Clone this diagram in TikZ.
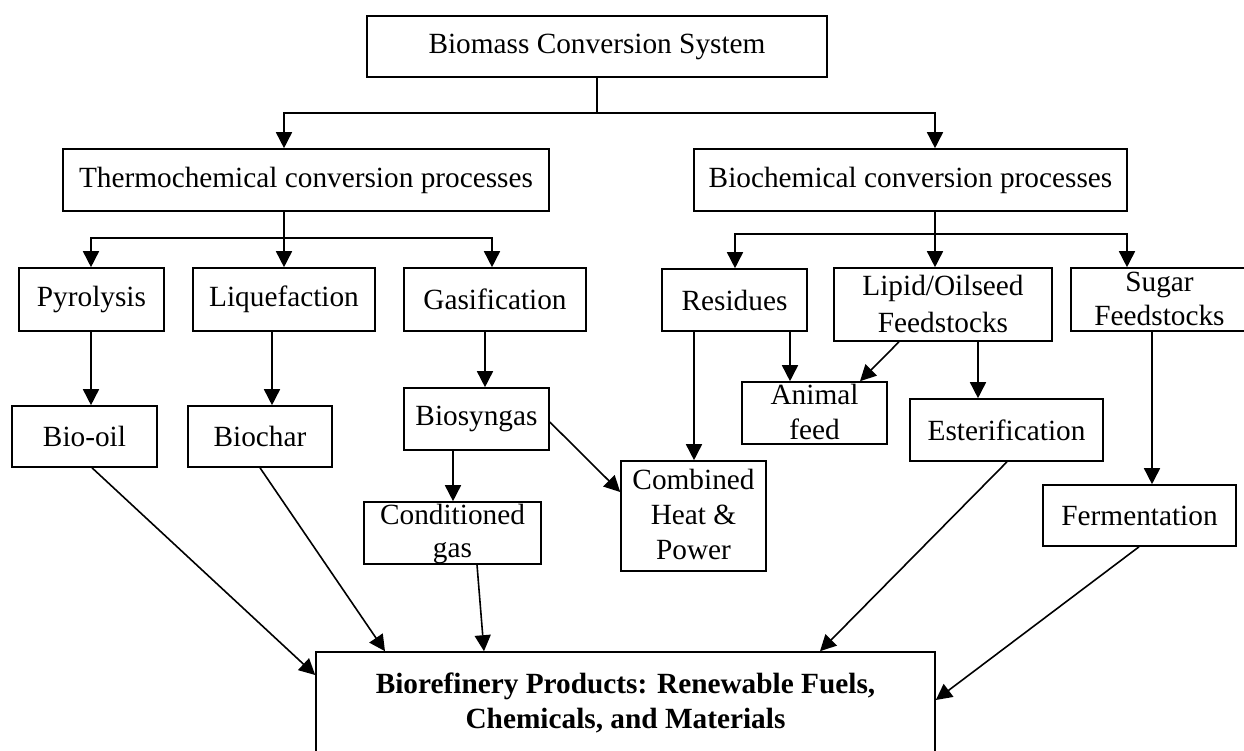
\documentclass[tikz,border=0pt]{standalone}
\usepackage{fontspec}
\setmainfont{Liberation Serif}
\usetikzlibrary{arrows.meta}
\newcommand\diagfont{\fontsize{29.3}{34}\selectfont}
\begin{document}
\begin{tikzpicture}[x=1pt,y=-1pt,
  box/.style={draw,line width=1.6pt,inner sep=0pt,font=\diagfont},
  txt/.style={anchor=base,inner sep=0pt,font=\diagfont},
  conn/.style={line width=1.6pt},
  arr/.style={conn,-{Triangle[length=16pt,width=16pt]}}]
\useasboundingbox (0,0) rectangle (1244,751);

% boxes
\node[box,minimum width=460pt,minimum height=61pt] (top) at (597,46.5) {Biomass Conversion System};
\node[box,minimum width=486pt,minimum height=62pt] (thermo) at (306,180) {Thermochemical conversion processes};
\node[box,minimum width=433pt,minimum height=62pt] (bio) at (910.5,180) {Biochemical conversion processes};
\node[box,minimum width=145pt,minimum height=63pt] (pyro) at (91.5,299.5) {Pyrolysis};
\node[box,minimum width=182pt,minimum height=63pt] (liq) at (284,299.5) {Liquefaction};
\node[box,minimum width=182pt,minimum height=63pt] (gas) at (495,299.5) {Gasification};
\node[box,minimum width=145pt,minimum height=61pt] (biooil) at (84.5,436.5) {Bio-oil};
\node[box,minimum width=144pt,minimum height=61pt] (biochar) at (260,436.5) {Biochar};
\node[box,minimum width=145pt,minimum height=62pt] (biosyngas) at (476.5,419) {Biosyngas};
\node[box,minimum width=177pt,minimum height=62pt] (cond) at (452.5,533) {};
\node[box,minimum width=145pt,minimum height=110pt] (chp) at (693.5,516) {};
\node[box,minimum width=145pt,minimum height=62pt] (residues) at (734.5,300) {Residues};
\node[box,minimum width=218pt,minimum height=73pt] (lipid) at (943,304.5) {};
\node[box,minimum width=176pt,minimum height=63pt] (sugar) at (1159,299.5) {};
\node[box,minimum width=145pt,minimum height=62pt] (animal) at (814.5,413) {};
\node[box,minimum width=193pt,minimum height=62pt] (esterif) at (1006.5,430) {Esterification};
\node[box,minimum width=193pt,minimum height=61pt] (ferm) at (1139.5,515.5) {Fermentation};
\node[box,minimum width=619pt,minimum height=118pt] (product) at (625.5,711) {};

% multi-line texts
\node[txt] (condA) at (452.5,524) {Conditioned};
\node[txt] (condB) at (452.5,557) {gas};
\node[txt] (chpA) at (693.5,489) {Combined};
\node[txt] (chpB) at (693.5,524) {Heat \&};
\node[txt] (chpC) at (693.5,559) {Power};
\node[txt] (lipidA) at (943,295) {Lipid/Oilseed};
\node[txt] (lipidB) at (943,332) {Feedstocks};
\node[txt] (sugarA) at (1159.5,291) {Sugar};
\node[txt] (sugarB) at (1159.5,325) {Feedstocks};
\node[txt] (animalA) at (814.5,404) {Animal};
\node[txt] (animalB) at (814.5,439) {feed};
\node[txt,font=\diagfont\bfseries] (prodA) at (625.5,693) {Biorefinery Products: Renewable Fuels,};
\node[txt,font=\diagfont\bfseries] (prodB) at (625.5,728) {Chemicals, and Materials};

% top split
\coordinate (j0) at (597,113);
\coordinate (jL) at (284,113);
\coordinate (jR) at (935,113);
\draw[conn] (top.south) -- (j0);
\draw[arr] (j0) -- (jL) -- (thermo.north -| jL);
\draw[arr] (j0) -- (jR) -- (bio.north -| jR);

% thermochemical split
\coordinate (t0) at (284,238);
\coordinate (tL) at (91,238);
\coordinate (tR) at (492,238);
\draw[conn] (thermo.south -| t0) -- (t0);
\draw[arr] (t0) -- (liq.north -| t0);
\draw[arr] (t0) -- (tL) -- (pyro.north -| tL);
\draw[arr] (t0) -- (tR) -- (gas.north -| tR);

% biochemical split
\coordinate (b0) at (935,234);
\coordinate (bL) at (735,234);
\coordinate (bR) at (1127,234);
\draw[conn] (bio.south -| b0) -- (b0);
\draw[arr] (b0) -- (lipid.north -| b0);
\draw[arr] (b0) -- (bL) -- (residues.north -| bL);
\draw[arr] (b0) -- (bR) -- (sugar.north -| bR);

% vertical arrows
\draw[arr] (pyro.south -| 91,0) -- (biooil.north -| 91,0);
\draw[arr] (liq.south -| 272,0) -- (biochar.north -| 272,0);
\draw[arr] (gas.south -| 485,0) -- (biosyngas.north -| 485,0);
\draw[arr] (biosyngas.south -| 453,0) -- (cond.north -| 453,0);
\draw[arr] (residues.south -| 694,0) -- (chp.north -| 694,0);
\draw[arr] (residues.south -| 790,0) -- (animal.north -| 790,0);
\draw[arr] (lipid.south -| 978,0) -- (esterif.north -| 978,0);
\draw[arr] (sugar.south -| 1152,0) -- (ferm.north -| 1152,0);

% diagonal arrows
\draw[arr] (biosyngas.east |- 0,422) -- (chp.west |- 0,492);
\draw[arr] (lipid.south -| 899,0) -- (animal.north -| 860,0);
\draw[arr] (biooil.south -| 92,0) -- (product.west |- 0,675);
\draw[arr] (biochar.south -| 260,0) -- (product.north -| 385,0);
\draw[arr] (cond.south -| 477,0) -- (product.north -| 484,0);
\draw[arr] (esterif.south -| 1007,0) -- (product.north -| 820,0);
\draw[arr] (ferm.south -| 1139,0) -- (product.east |- 0,700);
\end{tikzpicture}
\end{document}
